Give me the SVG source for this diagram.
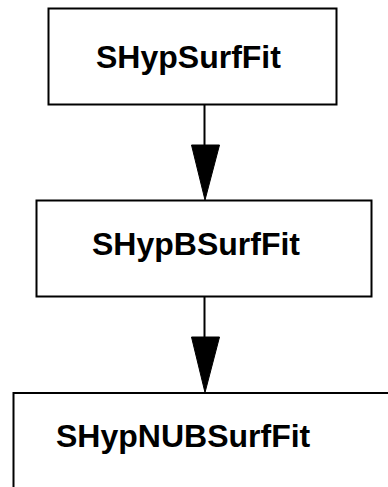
<svg xmlns="http://www.w3.org/2000/svg" width="388" height="487" viewBox="0 0 388 487">
<style>
.box{fill:#fff;stroke:#000;stroke-width:2}
.lbl{font-family:"Liberation Sans",Arial,sans-serif;font-weight:bold;font-size:32px;fill:#000}
.edge{stroke:#000;stroke-width:2;fill:none}
.head{fill:#000;stroke:#000;stroke-width:1}
</style>
<rect x="0" y="0" width="388" height="487" fill="#fff"/>
<g id="connectors">
<line class="edge" x1="204.5" y1="104.5" x2="204.5" y2="146"/>
<polygon class="head" points="191.5,145 219.5,145 205,200"/>
<line class="edge" x1="204.5" y1="296.5" x2="204.5" y2="338"/>
<polygon class="head" points="191.5,337 219.5,337 205,392.5"/>
</g>
<g id="SHypSurfFit">
<rect class="box" x="48.5" y="8.5" width="288" height="96"/>
<text class="lbl" x="96" y="68">SHypSurfFit</text>
</g>
<g id="SHypBSurfFit">
<rect class="box" x="36.5" y="200.5" width="335" height="96"/>
<text class="lbl" x="92" y="255">SHypBSurfFit</text>
</g>
<g id="SHypNUBSurfFit">
<rect class="box" x="13.5" y="393" width="400" height="120"/>
<text class="lbl" x="56" y="447">SHypNUBSurfFit</text>
</g>
</svg>
